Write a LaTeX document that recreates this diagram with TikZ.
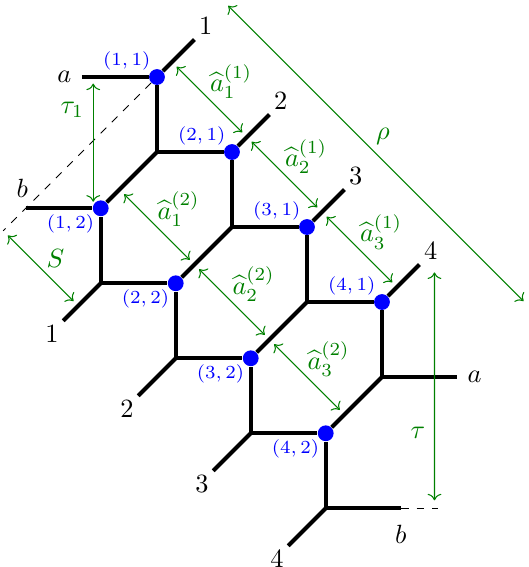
\documentclass[tikz,border=0pt]{standalone}
\usepackage{tikz}
\usetikzlibrary{arrows.meta, positioning, calc}
\usepackage{amsmath}
\definecolor{dimgreen}{HTML}{008000}
\tikzset{
  dot/.style={circle, fill=blue, inner sep=0pt, minimum size=6pt},
  dotlbl/.style={font=\scriptsize, text=blue, inner sep=0pt},
  brane/.style={line width=1.5pt, black},
  dim/.style={<->, dimgreen, thin, shorten >=2.5pt, shorten <=2.5pt},
  dimtxt/.style={text=dimgreen},
  dimlbl/.style={dimtxt, midway, above right, inner sep=0pt},
  leglbl/.style={inner sep=1pt},
}

\begin{document}
\begin{tikzpicture}[node distance=1cm, on grid]
  \useasboundingbox (-2.093,-6.533) rectangle (4.947,1.027);

  % first row of junctions
  \node[dot, label={[dotlbl]above left:$(1,1)$}] (p11) at (0,0) {};
  \coordinate[below=of p11] (v1);
  \node[dot, label={[dotlbl]above left:$(2,1)$}] (p21) at ($(v1)+(1,0)$) {};
  \coordinate[below=of p21] (v2);
  \node[dot, label={[dotlbl]above left:$(3,1)$}] (p31) at ($(v2)+(1,0)$) {};
  \coordinate[below=of p31] (v3);
  \node[dot, label={[dotlbl]above left:$(4,1)$}] (p41) at ($(v3)+(1,0)$) {};
  \coordinate[below=of p41] (v4);

  % second row of junctions
  \node[dot, label={[dotlbl]below left:$(1,2)$}] (p12) at ($(v1)+(-0.75,-0.75)$) {};
  \coordinate[below=of p12] (w1);
  \node[dot, label={[dotlbl]below left:$(2,2)$}] (p22) at ($(w1)+(1,0)$) {};
  \coordinate[below=of p22] (w2);
  \node[dot, label={[dotlbl]below left:$(3,2)$}] (p32) at ($(w2)+(1,0)$) {};
  \coordinate[below=of p32] (w3);
  \node[dot, label={[dotlbl]below left:$(4,2)$}] (p42) at ($(w3)+(1,0)$) {};
  \coordinate[below=of p42] (w4);

  % free ends of the legs
  \coordinate[above right=0.5cm and 0.5cm of p11] (t1);
  \coordinate[above right=0.5cm and 0.5cm of p21] (t2);
  \coordinate[above right=0.5cm and 0.5cm of p31] (t3);
  \coordinate[above right=0.5cm and 0.5cm of p41] (t4);
  \coordinate[below left=0.5cm and 0.5cm of w1] (l1);
  \coordinate[below left=0.5cm and 0.5cm of w2] (l2);
  \coordinate[below left=0.5cm and 0.5cm of w3] (l3);
  \coordinate[below left=0.5cm and 0.5cm of w4] (l4);
  \coordinate[left=of p11] (a1);
  \coordinate[right=of v4] (a2);
  \coordinate[left=of p12] (b1);
  \coordinate[right=of w4] (b2);
  \coordinate[right=0.5cm of b2] (b3);
  \coordinate[below left=0.3cm and 0.3cm of b1] (d1);

  % the web
  \draw[brane] (p11) -- (t1) node[leglbl, above right] (n1) {$1$};
  \draw[brane] (p21) -- (t2) node[leglbl, above right] (n2) {$2$};
  \draw[brane] (p31) -- (t3) node[leglbl, above right] (n3) {$3$};
  \draw[brane] (p41) -- (t4) node[leglbl, above right] (n4) {$4$};
  \draw[brane] (a1) node[left] (na1) {$a$} -- (p11);
  \draw[brane] (p11) -- (v1) -- (p21);
  \draw[brane] (v1) -- (p12);
  \draw[brane] (p21) -- (v2) -- (p31);
  \draw[brane] (v2) -- (p22);
  \draw[brane] (p31) -- (v3) -- (p41);
  \draw[brane] (v3) -- (p32);
  \draw[brane] (p41) -- (v4) -- (a2) node[right] (na2) {$a$};
  \draw[brane] (v4) -- (p42);
  \draw[brane] (b1) node[above, xshift=-1.3pt] (nb1) {$b$} -- (p12);
  \draw[brane] (p12) -- (w1) -- (p22);
  \draw[brane] (w1) -- (l1) node[leglbl, below left] (m1) {$1$};
  \draw[brane] (p22) -- (w2) -- (p32);
  \draw[brane] (w2) -- (l2) node[leglbl, below left] (m2) {$2$};
  \draw[brane] (p32) -- (w3) -- (p42);
  \draw[brane] (w3) -- (l3) node[leglbl, below left] (m3) {$3$};
  \draw[brane] (p42) -- (w4) -- (b2) node[below=2.5pt] (nb2) {$b$};
  \draw[brane] (w4) -- (l4) node[leglbl, below left] (m4) {$4$};
  \draw[dashed] (p11) -- (d1);
  \draw[dashed] (b2) -- (b3);

  % face widths
  \draw[dim] ($(p11)+(0.2,0.2)$) -- ($(p21)+(0.2,0.2)$) node[dimlbl] (h11) {$\widehat{a}_1^{(1)}$};
  \draw[dim] ($(p21)+(0.2,0.2)$) -- ($(p31)+(0.2,0.2)$) node[dimlbl] (h21) {$\widehat{a}_2^{(1)}$};
  \draw[dim] ($(p31)+(0.2,0.2)$) -- ($(p41)+(0.2,0.2)$) node[dimlbl] (h31) {$\widehat{a}_3^{(1)}$};
  \draw[dim] ($(p12)+(0.25,0.25)$) -- ($(p22)+(0.25,0.25)$) node[dimlbl] (h12) {$\widehat{a}_1^{(2)}$};
  \draw[dim] ($(p22)+(0.25,0.25)$) -- ($(p32)+(0.25,0.25)$) node[dimlbl] (h22) {$\widehat{a}_2^{(2)}$};
  \draw[dim] ($(p32)+(0.25,0.25)$) -- ($(p42)+(0.25,0.25)$) node[dimlbl] (h32) {$\widehat{a}_3^{(2)}$};

  % other lengths
  \draw[dim] ($(a1)+(0.15,0)$) -- ($(b1)+(0.9,0)$) node[dimtxt, pos=0.25, left] (ntau1) {$\tau_1$};
  \draw[dim] (d1) -- ($(l1)+(0.2,0.2)$) node[dimlbl, xshift=2pt] (ns) {$S$};
  \draw[dim, shorten <=0pt] ($(p11)+(0.95,0.95)$) -- ($(w4)+(2.7,2.7)$) node[dimlbl, xshift=-1pt, yshift=4pt] (nrho) {$\rho$};
  \draw[dim, shorten <=3pt, shorten >=3pt] ($(t4)+(0.2,0)$) -- ($(b3)+(-0.05,0)$) node[dimtxt, pos=0.69, left] (ntau) {$\tau$};
\end{tikzpicture}
\end{document}
